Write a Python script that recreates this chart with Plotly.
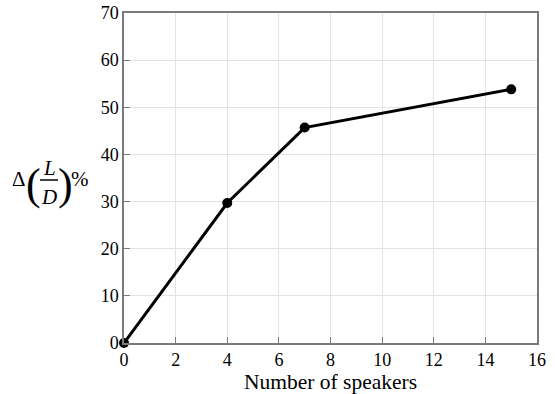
import plotly.graph_objects as go

speakers = [0, 4, 7, 15]
delta_ld = [0.0, 29.7, 45.7, 53.8]
x_ticks = [0, 2, 4, 6, 8, 10, 12, 14, 16]
y_ticks = [0, 10, 20, 30, 40, 50, 60, 70]

font = "Liberation Serif, Times New Roman, serif"

fig = go.Figure()
fig.add_trace(go.Scatter(
    x=speakers, y=delta_ld, mode="lines+markers",
    line=dict(color="black", width=3),
    marker=dict(color="black", size=10),
    cliponaxis=False, showlegend=False,
))

axis_common = dict(
    showgrid=True, gridcolor="#e3e3e3", gridwidth=1,
    showline=True, linecolor="#7a7a7a", linewidth=1.5, mirror=True,
    ticks="inside", ticklen=6, tickcolor="#7a7a7a", tickwidth=1,
    tickfont=dict(family=font, size=18, color="black"),
    zeroline=False, automargin=False,
)

fig.update_xaxes(range=[0, 16], tickvals=x_ticks, **axis_common,
                 title=dict(text="Number of speakers", font=dict(family=font, size=21.5, color="black"), standoff=3))
fig.update_yaxes(range=[0, 70], tickvals=y_ticks, **axis_common)

W, H = 555, 394
L_M, R_M, T_M, B_M = 124, 18, 13, 51
pw, ph = W - L_M - R_M, H - T_M - B_M

def px(x):
    return (x - L_M) / pw

def py(y):
    return (H - B_M - y) / ph

def label(x, y, text, size):
    fig.add_annotation(x=px(x), y=py(y), xref="paper", yref="paper", text=text,
                       showarrow=False, xanchor="center", yanchor="middle",
                       borderpad=0, font=dict(family=font, size=size, color="black"))

# y-axis title: Δ(L/D)%
label(19, 179, "Δ", 21)
label(33, 184, "(", 44)
label(49, 168, "<i>L</i>", 21)
label(49, 197, "<i>D</i>", 21)
label(65, 184, ")", 44)
label(80, 179, "%", 21)
fig.add_shape(type="line", xref="paper", yref="paper",
              x0=px(40), x1=px(58), y0=py(180), y1=py(180),
              line=dict(color="black", width=1.5))

fig.update_layout(
    width=W, height=H,
    margin=dict(l=L_M, r=R_M, t=T_M, b=B_M),
    plot_bgcolor="white", paper_bgcolor="white",
)

fig.write_html("out.html")
